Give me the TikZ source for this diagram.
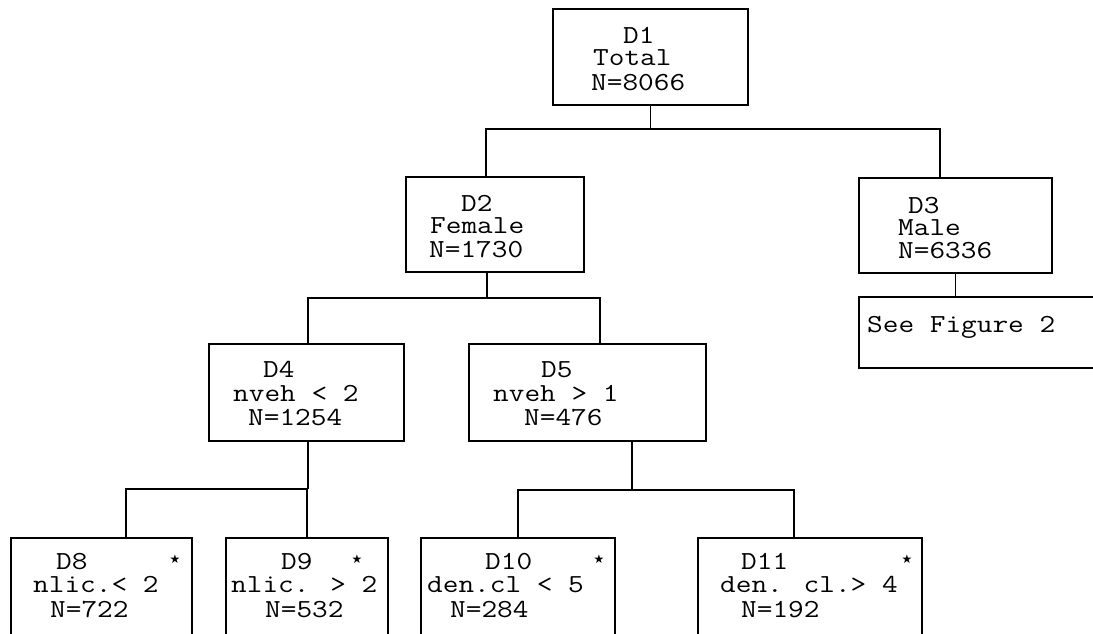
\documentclass[tikz,border=0pt]{standalone}
\usepackage{fontspec}
\usepackage{graphicx}
\newfontfamily\dv{DejaVu Sans}
\newcommand\tw[1]{\scalebox{1.17}[1]{#1}}
\begin{document}
\begin{tikzpicture}[x=1pt,y=-1pt,
  box/.style={draw,line width=1.7pt,rectangle,inner sep=0pt},
  ln/.style={line width=1.7pt},
  txt/.style={anchor=base west,inner sep=0pt,font=\ttfamily\fontsize{26}{26}\selectfont},
  star/.style={inner sep=0pt,font=\dv\fontsize{12}{12}\selectfont}]
\useasboundingbox (0,0) rectangle (1093,633);
% boxes
\node[box,minimum width=195pt,minimum height=96pt] (D1) at (650.5,57) {};
\node[box,minimum width=178pt,minimum height=95pt] (D2) at (495,224.5) {};
\node[box,minimum width=193pt,minimum height=95pt] (D3) at (955.5,225.5) {};
\node[box,minimum width=250pt,minimum height=71pt] (SF) at (984,332.5) {};
\node[box,minimum width=195pt,minimum height=97pt] (D4) at (306.5,392.5) {};
\node[box,minimum width=237pt,minimum height=97pt] (D5) at (587.5,392.5) {};
\node[box,minimum width=181pt,minimum height=120pt] (D8) at (101.5,598) {};
\node[box,minimum width=162pt,minimum height=120pt] (D9) at (307,598) {};
\node[box,minimum width=194pt,minimum height=120pt] (D10) at (518,598) {};
\node[box,minimum width=224pt,minimum height=120pt] (D11) at (810,598) {};
% texts
\node[txt] (t1a) at (623,43) {\tw{D1}};
\node[txt] (t1b) at (593,65) {\tw{Total}};
\node[txt] (t1c) at (591,90) {\tw{N=8066}};
\node[txt] (t2a) at (461,211) {\tw{D2}};
\node[txt] (t2b) at (430,233) {\tw{Female}};
\node[txt] (t2c) at (429,257) {\tw{N=1730}};
\node[txt] (t3a) at (908,213) {\tw{D3}};
\node[txt] (t3b) at (898,235) {\tw{Male}};
\node[txt] (t3c) at (898,258) {\tw{N=6336}};
\node[txt] (tsf) at (867,332) {\tw{See Figure 2}};
\node[txt] (t4a) at (263,377) {\tw{D4}};
\node[txt] (t4b) at (233,401) {\tw{nveh < 2}};
\node[txt] (t4c) at (248,425) {\tw{N=1254}};
\node[txt] (t5a) at (541,377) {\tw{D5}};
\node[txt] (t5b) at (493,401) {\tw{nveh > 1}};
\node[txt] (t5c) at (524,425) {\tw{N=476}};
\node[txt] (t8a) at (56,569) {\tw{D8}};
\node[txt] (t8b) at (33,592) {\tw{nlic.< 2}};
\node[txt] (t8c) at (50,617) {\tw{N=722}};
\node[txt] (t9a) at (281,569) {\tw{D9}};
\node[txt] (t9b) at (231,592) {\tw{nlic. > 2}};
\node[txt] (t9c) at (265,617) {\tw{N=532}};
\node[txt] (t10a) at (485,569) {\tw{D10}};
\node[txt] (t10b) at (427,592) {\tw{den.cl < 5}};
\node[txt] (t10c) at (450,617) {\tw{N=284}};
\node[txt] (t11a) at (741,569) {\tw{D11}};
\node[txt] (t11b) at (720,592) {\tw{den. cl.> 4}};
\node[txt] (t11c) at (741,617) {\tw{N=192}};
\node[star] (s8) at (175,559) {★};
\node[star] (s9) at (357,559) {★};
\node[star] (s10) at (599,559) {★};
\node[star] (s11) at (907,559) {★};
% connectors
\draw[ln] (D1.south) -- ++(0,23) coordinate (b1);
\draw[ln] ([xshift=-9pt]D2.north) |- (b1);
\draw[ln] ([xshift=-15.5pt]D3.north) |- (b1);
\draw[ln] (D3.south) -- (D3.south |- SF.north);
\draw[ln] ([xshift=-8pt]D2.south) -- ++(0,25) coordinate (b2);
\draw[ln] ([xshift=1.5pt]D4.north) |- (b2);
\draw[ln] ([xshift=12.5pt]D5.north) |- (b2);
\draw[ln] ([xshift=1.5pt]D4.south) -- ++(0,47) coordinate (b4);
\draw[ln] ([xshift=24.5pt]D8.north) |- (b4);
\draw[ln] (D9.north) |- (b4);
\draw[ln] ([xshift=44.5pt]D5.south) -- ++(0,48) coordinate (b5);
\draw[ln] (D10.north) |- (b5);
\draw[ln] ([xshift=-16pt]D11.north) |- (b5);
\end{tikzpicture}
\end{document}
